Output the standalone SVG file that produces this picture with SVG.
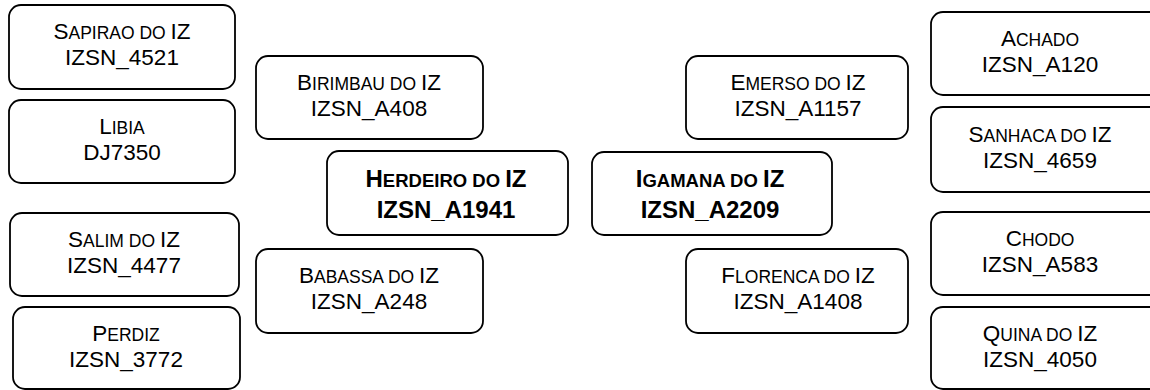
<svg xmlns="http://www.w3.org/2000/svg" width="1150" height="390" viewBox="0 0 1150 390">
<style>
.box{fill:#fff;stroke:#000;stroke-width:1.8}
.t{font-family:"Liberation Sans",Arial,sans-serif;font-size:22.5px;fill:#000;text-anchor:middle}
.b{font-weight:bold;font-size:24px}
.sc{font-size:17.5px}
.b .sc{font-size:18.5px}
</style>
<rect width="1150" height="390" fill="#fff"/>
<g id="connectors"></g>
<g id="sapirao"><rect class="box" x="9" y="5" width="226" height="84" rx="12"/>
<text class="t" x="122" y="39">S<tspan class="sc">APIRAO DO </tspan>IZ</text>
<text class="t" x="122" y="65">IZSN_4521</text></g>
<g id="libia"><rect class="box" x="9" y="100" width="226" height="83" rx="12"/>
<text class="t" x="122" y="134">L<tspan class="sc">IBIA</tspan></text>
<text class="t" x="122" y="160">DJ7350</text></g>
<g id="salim"><rect class="box" x="10" y="213" width="229" height="83" rx="12"/>
<text class="t" x="124" y="247">S<tspan class="sc">ALIM DO </tspan>IZ</text>
<text class="t" x="124" y="273">IZSN_4477</text></g>
<g id="perdiz"><rect class="box" x="13" y="307" width="227" height="82" rx="12"/>
<text class="t" x="126" y="341">P<tspan class="sc">ERDIZ</tspan></text>
<text class="t" x="126" y="367">IZSN_3772</text></g>
<g id="birimbau"><rect class="box" x="256" y="56" width="227" height="83" rx="12"/>
<text class="t" x="369" y="90">B<tspan class="sc">IRIMBAU DO </tspan>IZ</text>
<text class="t" x="369" y="116">IZSN_A408</text></g>
<g id="herdeiro"><rect class="box" x="327" y="151" width="241" height="84" rx="12"/>
<text class="t b" x="446" y="187">H<tspan class="sc">ERDEIRO DO </tspan>IZ</text>
<text class="t b" x="446" y="218">IZSN_A1941</text></g>
<g id="babassa"><rect class="box" x="256" y="249" width="227" height="84" rx="12"/>
<text class="t" x="369" y="283">B<tspan class="sc">ABASSA DO </tspan>IZ</text>
<text class="t" x="369" y="309">IZSN_A248</text></g>
<g id="igamana"><rect class="box" x="592" y="152" width="240" height="83" rx="12"/>
<text class="t b" x="710" y="187">I<tspan class="sc">GAMANA DO </tspan>IZ</text>
<text class="t b" x="710" y="218">IZSN_A2209</text></g>
<g id="emerso"><rect class="box" x="686" y="56" width="222" height="83" rx="12"/>
<text class="t" x="798" y="90">E<tspan class="sc">MERSO DO </tspan>IZ</text>
<text class="t" x="798" y="116">IZSN_A1157</text></g>
<g id="florenca"><rect class="box" x="686" y="249" width="222" height="84" rx="12"/>
<text class="t" x="798" y="283">F<tspan class="sc">LORENCA DO </tspan>IZ</text>
<text class="t" x="798" y="309">IZSN_A1408</text></g>
<g id="achado"><rect class="box" x="931" y="12" width="232" height="83" rx="12"/>
<text class="t" x="1040" y="46">A<tspan class="sc">CHADO</tspan></text>
<text class="t" x="1040" y="72">IZSN_A120</text></g>
<g id="sanhaca"><rect class="box" x="931" y="107" width="232" height="85" rx="12"/>
<text class="t" x="1040" y="142">S<tspan class="sc">ANHACA DO </tspan>IZ</text>
<text class="t" x="1040" y="168">IZSN_4659</text></g>
<g id="chodo"><rect class="box" x="931" y="212" width="232" height="83" rx="12"/>
<text class="t" x="1040" y="246">C<tspan class="sc">HODO</tspan></text>
<text class="t" x="1040" y="272">IZSN_A583</text></g>
<g id="quina"><rect class="box" x="931" y="307" width="232" height="82" rx="12"/>
<text class="t" x="1040" y="341">Q<tspan class="sc">UINA DO </tspan>IZ</text>
<text class="t" x="1040" y="367">IZSN_4050</text></g>
</svg>
